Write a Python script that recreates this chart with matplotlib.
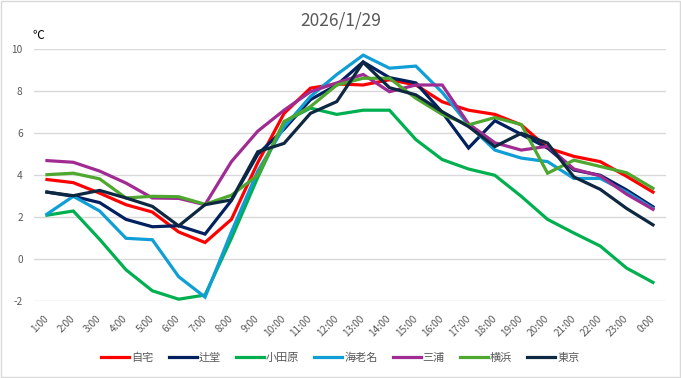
import matplotlib
matplotlib.use("Agg")
import matplotlib.pyplot as plt
from matplotlib.patches import Rectangle

plt.rcParams['font.family'] = ['Noto Sans CJK JP', 'DejaVu Sans']

hours = ["1:00", "2:00", "3:00", "4:00", "5:00", "6:00", "7:00", "8:00", "9:00", "10:00",
         "11:00", "12:00", "13:00", "14:00", "15:00", "16:00", "17:00", "18:00", "19:00",
         "20:00", "21:00", "22:00", "23:00", "0:00"]

jitaku = [3.8, 3.65, 3.15, 2.6, 2.25, 1.3, 0.8, 1.9, 4.6, 6.95, 8.15, 8.35, 8.3, 8.55, 8.3,
          7.5, 7.1, 6.9, 6.4, 5.3, 4.9, 4.65, 3.95, 3.2]
tsujido = [3.2, 3.0, 2.7, 1.9, 1.55, 1.6, 1.2, 2.8, 5.0, 6.2, 7.6, 8.3, 9.4, 8.65, 8.4,
           7.0, 5.3, 6.6, 5.95, 5.3, 4.25, 4.0, 3.3, 2.5]
odawara = [2.1, 2.3, 0.95, -0.5, -1.5, -1.9, -1.7, 1.0, 3.9, 6.55, 7.2, 6.9, 7.1, 7.1, 5.7,
           4.75, 4.3, 4.0, 3.0, 1.9, 1.25, 0.63, -0.42, -1.1]
ebina = [2.15, 3.0, 2.3, 1.0, 0.93, -0.83, -1.8, 1.3, 4.2, 6.3, 7.75, 8.8, 9.72, 9.1, 9.2,
         7.95, 6.4, 5.2, 4.82, 4.65, 3.85, 3.85, 3.2, 2.42]
miura = [4.7, 4.62, 4.2, 3.63, 2.92, 2.9, 2.6, 4.65, 6.1, 7.1, 7.98, 8.4, 8.8, 7.98, 8.3,
         8.3, 6.45, 5.55, 5.2, 5.38, 4.3, 3.97, 3.1, 2.38]
yokohama = [4.03, 4.1, 3.83, 2.92, 3.0, 2.98, 2.62, 3.05, 4.0, 6.55, 7.27, 8.3, 8.62, 8.62,
            7.67, 6.9, 6.4, 6.75, 6.42, 4.1, 4.72, 4.42, 4.12, 3.38]
tokyo = [3.2, 3.03, 3.28, 2.92, 2.52, 1.59, 2.6, 2.83, 5.12, 5.52, 6.95, 7.51, 9.38, 8.17,
         7.83, 7.03, 6.32, 5.37, 6.0, 5.53, 3.92, 3.33, 2.42, 1.64]

series_names = ["自宅", "辻堂", "小田原", "海老名", "三浦", "横浜", "東京"]
series_values = [jitaku, tsujido, odawara, ebina, miura, yokohama, tokyo]
series_colors = ["#FF0000", "#002060", "#00B050", "#0F9ED5", "#A02B93", "#4EA72E", "#0E2841"]

fig = plt.figure(figsize=(6.81, 3.78), dpi=100)
fig.patches.append(Rectangle((0.0015, 0.0025), 0.997, 0.995, transform=fig.transFigure,
                             fill=False, edgecolor="#D9D9D9", linewidth=1.0))

ax = fig.add_axes([0.0496, 0.2029, 0.9286, 0.6667])
x = list(range(len(hours)))
for name, vals, col in zip(series_names, series_values, series_colors):
    ax.plot(x, vals, color=col, linewidth=2.3, label=name, solid_joinstyle='miter')

ax.set_xlim(-0.5, len(hours) - 0.5)
ax.set_ylim(-2, 10)
ax.set_yticks([-2, 0, 2, 4, 6, 8, 10])
ax.set_yticklabels(["-2", "0", "2", "4", "6", "8", "10"])
ax.set_xticks(x)
ax.set_xticklabels(hours, rotation=45, ha='right', va='center', rotation_mode='anchor')
ax.tick_params(axis='both', length=0, labelsize=7.3, labelcolor="#595959")
ax.tick_params(axis='x', pad=11)
ax.tick_params(axis='y', pad=8)
for s in ax.spines.values():
    s.set_visible(False)
ax.grid(axis='y', color="#D9D9D9", linewidth=1.0)
ax.set_axisbelow(True)

fig.text(0.5, 0.945, "2026/1/29", ha='center', va='center', fontsize=12.5, color="#595959")
fig.text(0.048, 0.905, "℃", ha='left', va='center', fontsize=8.5, color="#000000")

fig.legend(loc='center', bbox_to_anchor=(0.5, 0.053), ncol=7, frameon=False,
           fontsize=8, handlelength=2.5, handletextpad=0.2, columnspacing=1.35,
           labelcolor="#595959")

fig.savefig("out.png", dpi=100)
